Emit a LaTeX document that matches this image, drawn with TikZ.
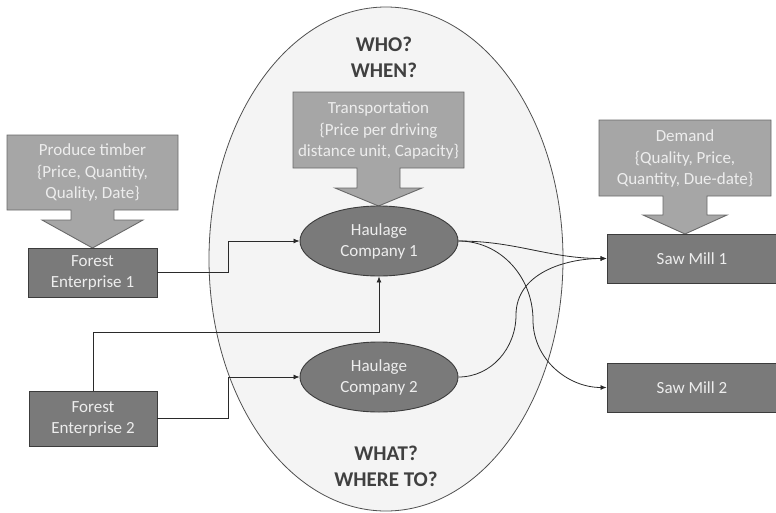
\documentclass[tikz,border=0pt]{standalone}
\usepackage{fontspec}
\setmainfont{Carlito}
\usetikzlibrary{shapes.geometric,arrows.meta}
\definecolor{bigfill}{HTML}{F4F4F4}
\definecolor{bigline}{HTML}{505050}
\definecolor{callfill}{HTML}{A6A6A6}
\definecolor{callline}{HTML}{6A6A6A}
\definecolor{boxfill}{HTML}{7A7A7A}
\definecolor{boxline}{HTML}{3C3C3C}
\definecolor{lighttext}{HTML}{EDEDED}
\definecolor{darktext}{HTML}{404040}
\definecolor{conn}{HTML}{2A2A2A}
\tikzset{
  callout/.style={fill=callfill, draw=callline, line width=0.9pt, line join=miter},
  calltext/.style={text=lighttext, align=center, font=\fontsize{17}{21.5}\selectfont, inner sep=0pt},
  darkbox/.style={rectangle, fill=boxfill, draw=boxline, line width=0.9pt, text=lighttext, align=center, font=\fontsize{17}{21}\selectfont, inner sep=0pt},
  haul/.style={ellipse, fill=boxfill, draw=boxline, line width=0.9pt, text=lighttext, align=center, font=\fontsize{17}{21}\selectfont, inner sep=0pt, minimum width=158pt, minimum height=70pt},
  question/.style={text=darktext, align=center, font=\fontsize{21}{26}\selectfont\bfseries, inner sep=0pt},
  link/.style={draw=conn, line width=0.8pt, -{Latex[length=6pt,width=5pt]}},
  plainlink/.style={draw=conn, line width=0.8pt}
}
\begin{document}
\begin{tikzpicture}[x=1pt,y=-1pt]
\useasboundingbox (0,0) rectangle (776,512);
% big ellipse
\draw[fill=bigfill, draw=bigline, line width=0.8pt] (386,259) ellipse [x radius=177pt, y radius=252pt];
\node[question] (who) at (384,57) {WHO?\\WHEN?};
\node[question] (what) at (386,466) {WHAT?\\WHERE TO?};
% callouts
\draw[callout] (7,135) -- (178,135) -- (178,210) -- (114,210) -- (114,220) -- (143,220) -- (92.5,248) -- (42,220) -- (71,220) -- (71,210) -- (7,210) -- cycle;
\node[calltext] (prod) at (92.5,172.5) {Produce timber\\\{Price, Quantity,\\Quality, Date\}};
\draw[callout] (293,92) -- (464,92) -- (464,168) -- (400,168) -- (400,188) -- (422,188) -- (378.5,206) -- (335,188) -- (357,188) -- (357,168) -- (293,168) -- cycle;
\node[calltext] (trans) at (378.5,130.5) {Transportation\\\{Price per driving\\distance unit, Capacity\}};
\draw[callout] (599,120) -- (771,120) -- (771,196) -- (707,196) -- (707,215) -- (727,215) -- (685,234) -- (643,215) -- (663,215) -- (663,196) -- (599,196) -- cycle;
\node[calltext] (dem) at (685,158.5) {Demand\\\{Quality, Price,\\Quantity, Due-date\}};
% boxes
\node[darkbox, minimum width=129pt, minimum height=49pt] (fe1) at (92.5,272.5) {Forest\\Enterprise 1};
\node[darkbox, minimum width=128pt, minimum height=55pt] (fe2) at (93,418.5) {Forest\\Enterprise 2};
\node[darkbox, minimum width=170pt, minimum height=49pt] (sm1) at (692,258.5) {Saw Mill 1};
\node[darkbox, minimum width=170pt, minimum height=49pt] (sm2) at (692,387.5) {Saw Mill 2};
\node[haul] (hc1) at (379,241) {Haulage\\Company 1};
\node[haul] (hc2) at (379,377) {Haulage\\Company 2};
% connectors
\coordinate (bendA) at (533,320);
\coordinate (bendB) at (516,315);
\draw[link] (fe1.east) -- ++(71,0) |- (hc1.west);
\draw[link] (fe2.north) -- ++(0,-58) -| (hc1.south);
\draw[link] (fe2.east) -- ++(71,0) |- (hc2.west);
\draw[link] (hc1.east) to[out=0,in=180] (sm1.west);
\draw[plainlink] (hc1.east) to[out=0,in=90] (bendA);
\draw[link] (bendA) to[out=-90,in=180] (sm2.west);
\draw[plainlink] (hc2.east) to[out=0,in=-90] (bendB);
\draw[link] (bendB) to[out=90,in=180] (sm1.west);
\end{tikzpicture}
\end{document}
